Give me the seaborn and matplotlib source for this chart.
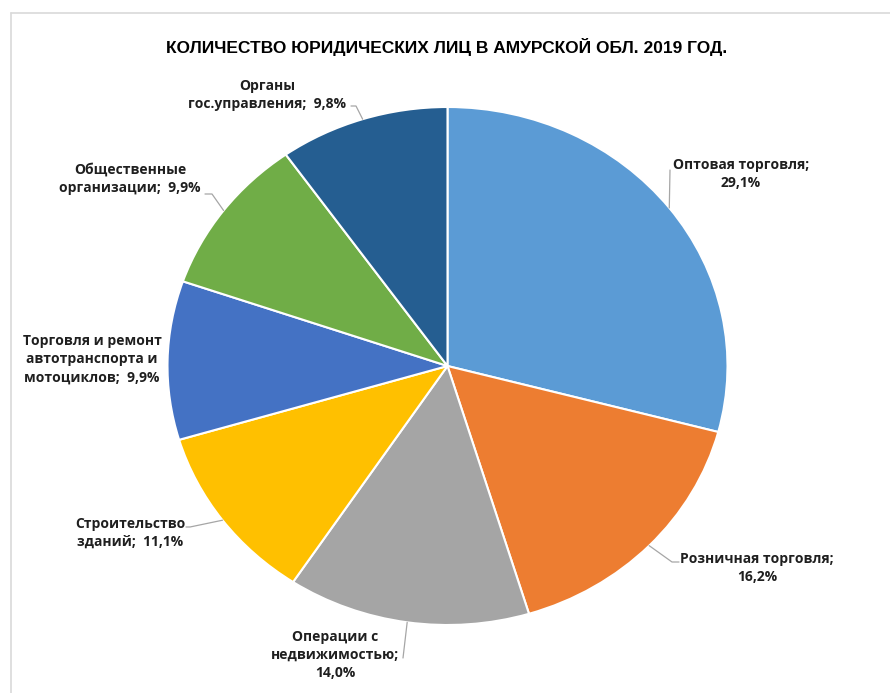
import numpy as np
import seaborn as sns
import matplotlib.pyplot as plt
from matplotlib.lines import Line2D

# data
categories = ["Оптовая торговля", "Розничная торговля", "Операции с\nнедвижимостью",
              "Строительство\nзданий", "Торговля и ремонт\nавтотранспорта и\nмотоциклов",
              "Общественные\nорганизации", "Органы\nгос.управления"]
shares = [29.1, 16.2, 14.0, 11.1, 9.9, 9.9, 9.8]
label_texts = ["Оптовая торговля;\n29,1%", "Розничная торговля;\n16,2%",
               "Операции с\nнедвижимостью;\n14,0%", "Строительство\nзданий;  11,1%",
               "Торговля и ремонт\nавтотранспорта и\nмотоциклов;  9,9%",
               "Общественные\nорганизации;  9,9%", "Органы\nгос.управления;  9,8%"]
colors = ["#5B9BD5", "#ED7D31", "#A5A5A5", "#FFC000", "#4472C4", "#70AD47", "#255E91"]

sns.set_theme(style="white")
plt.rcParams['font.family'] = ['Open Sans', 'DejaVu Sans']

W, H = 890, 693
cx, cy = 447.5, 366     # pie centre in pixels
rx, ry = 280, 259       # pie is a bit wider than tall

fig = plt.figure(figsize=(W / 100, H / 100), dpi=100)
ax = fig.add_axes([0, 0, 1, 1])

def px(x, y):
    return (x - cx) / rx, (cy - y) / ry

wedges, _ = ax.pie(shares, colors=sns.color_palette(colors), startangle=90, counterclock=False,
                   radius=1, wedgeprops=dict(edgecolor="white", linewidth=1.5))
ax.set_aspect("auto")
ax.set_xlim(-cx / rx, (W - cx) / rx)
ax.set_ylim(-(H - cy) / ry, cy / ry)
ax.axis("off")

# label centres and leader elbow/end points (pixels)
label_pos = [(741, 174), (757, 568), (335, 655), (130, 533), (92, 359), (130, 179), (267, 95)]
leader_pts = [
    [(670, 170)],
    [(672, 562), (679, 562)],
    [(403, 658)],
    [(190, 527), (186, 527)],
    None,
    [(212, 194), (205, 194)],
    [(356, 106), (351, 106)],
]

for w, (lx, ly), lp, txt in zip(wedges, label_pos, leader_pts, label_texts):
    mid = np.deg2rad((w.theta1 + w.theta2) / 2)
    sx, sy = np.cos(mid), np.sin(mid)
    if lp is not None:
        xs = [sx] + [px(*p)[0] for p in lp]
        ys = [sy] + [px(*p)[1] for p in lp]
        ax.plot(xs, ys, color="#A6A6A6", lw=0.9, clip_on=False)
    tx, ty = px(lx, ly)
    ax.text(tx, ty, txt, ha="center", va="center", fontsize=10, fontweight="bold",
            color="#1F1F1F", linespacing=1.4)

fig.text(447 / W, 1 - 47 / H, "КОЛИЧЕСТВО ЮРИДИЧЕСКИХ ЛИЦ В АМУРСКОЙ ОБЛ. 2019 ГОД.",
         ha="center", va="center", fontsize=12.5, fontweight="bold", color="black",
         family=['Liberation Sans', 'DejaVu Sans'])

# chart area border (only top and left visible)
fig.add_artist(Line2D([11 / W, 11 / W], [0, 1 - 13 / H], color="#D9D9D9", lw=1.2))
fig.add_artist(Line2D([11 / W, 1], [1 - 13 / H, 1 - 13 / H], color="#D9D9D9", lw=1.2))

fig.savefig("out.png", dpi=100)
